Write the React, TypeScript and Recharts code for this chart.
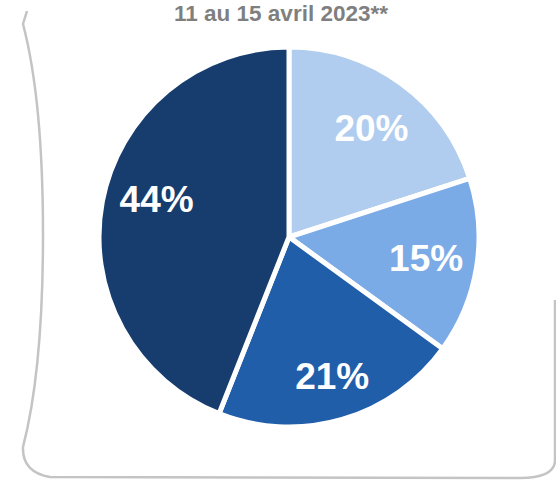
import { PieChart, Pie, Cell, Customized } from "recharts";

const categories = ["Segment A", "Segment B", "Segment C", "Segment D"];
const shares = [20, 15, 21, 44];
const colors = ["#B0CDEF", "#7BABE6", "#215EAA", "#173D6E"];
const title = "11 au 15 avril 2023**";

const data = categories.map((name, i) => ({ name, value: shares[i] }));

const RADIAN = Math.PI / 180;

// small label nudges (Excel best-fit placement)
const nudges = [
  [2, 2],
  [2, 0],
  [5, 8],
  [2, -12],
];

function renderLabel(props: any) {
  const { cx, cy, midAngle, outerRadius, value, index } = props;
  const r = outerRadius * 0.72;
  const [dx, dy] = nudges[index] || [0, 0];
  const x = cx + r * Math.cos(-midAngle * RADIAN) + dx;
  const y = cy + r * Math.sin(-midAngle * RADIAN) + dy;
  return (
    <text
      x={x}
      y={y}
      fill="#FFFFFF"
      textAnchor="middle"
      dominantBaseline="central"
      fontFamily="'Liberation Sans', Arial, sans-serif"
      fontWeight="bold"
      fontSize={37}
    >
      {`${value}%`}
    </text>
  );
}

function Frame() {
  return (
    <g>
      <path
        d="M27,11 L23,24 Q43,100 43,235 Q43,370 23,447 Q22,472 50,477 L520,478 Q553,478 555,462 L555,300"
        fill="none"
        stroke="#C4C4C4"
        strokeWidth={2.5}
      />
      <text
        x={281}
        y={21}
        textAnchor="middle"
        fill="#7F7F7F"
        fontFamily="'Liberation Sans', Arial, sans-serif"
        fontWeight="bold"
        fontSize={22.5}
      >
        {title}
      </text>
    </g>
  );
}

export default function App() {
  return (
    <div style={{ position: "absolute", left: 0, top: 0 }}>
      <PieChart width={556} height={482} margin={{ top: 0, right: 0, bottom: 0, left: 0 }}>
        <Customized component={Frame} />
        <Pie
          data={data}
          dataKey="value"
          nameKey="name"
          cx={289}
          cy={237}
          outerRadius={190}
          startAngle={90}
          endAngle={-270}
          stroke="#FFFFFF"
          strokeWidth={5}
          label={renderLabel}
          labelLine={false}
          isAnimationActive={false}
        >
          {data.map((d, i) => (
            <Cell key={d.name} fill={colors[i]} />
          ))}
        </Pie>
      </PieChart>
    </div>
  );
}
